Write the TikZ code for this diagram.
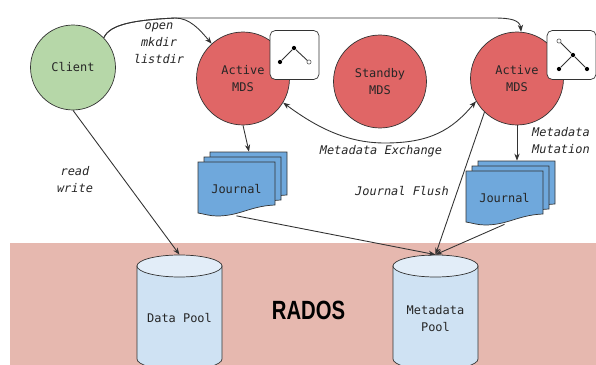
\documentclass[tikz,border=0pt]{standalone}
\usepackage{fontspec}
\setmonofont{DejaVu Sans Mono}
\newfontfamily\titlefont{Liberation Sans}
\usepackage{tikz}
\usetikzlibrary{arrows.meta}

\definecolor{clientgreen}{HTML}{B6D7A8}
\definecolor{mdsred}{HTML}{E06666}
\definecolor{journalblue}{HTML}{6FA8DC}
\definecolor{radospink}{HTML}{E6B8AF}
\definecolor{poolbody}{HTML}{CFE2F3}
\definecolor{pooltop}{HTML}{E2EDF8}

\tikzset{
  txt/.style={font=\ttfamily\fontsize{6.8}{9.7}\selectfont, text=black!85, align=center, inner sep=0},
  note/.style={txt, font=\ttfamily\itshape\fontsize{6.8}{9.7}\selectfont},
  mds/.style={circle, draw=black!80, fill=mdsred, minimum size=1.86cm, inner sep=0, txt},
  iconbox/.style={draw=black!80, fill=white, rounded corners=3pt, minimum size=0.98cm, inner sep=0},
  dot/.style={circle, fill=black, inner sep=0, minimum size=2.4pt},
  opendot/.style={circle, draw=black!70, fill=white, inner sep=0, minimum size=2.4pt, line width=0.3pt},
  pool/.style={txt, minimum width=1.7cm, minimum height=2.52cm},
  sheet/.style={draw=black!80, fill=journalblue},
  link/.style={draw=black!80, line width=0.5pt, -{Stealth[length=4pt,width=3pt]}}
}

% one sheet of a journal stack, #1,#2 = top left corner
\newcommand{\journalsheet}[2]{
  \draw[sheet, shift={(#1,#2)}] (0,0) -- (77,0) -- (77,43)
    .. controls (52,44) and (42,54) .. (19,54)
    .. controls (12,54) and (6,52) .. (0,51) -- cycle;
}
% drum of a pool, #1 = middle of the drum
\newcommand{\pooldrum}[1]{
  \draw[draw=black!80, fill=poolbody] (#1-42.5,266) -- (#1-42.5,359)
    arc[x radius=42.5, y radius=11, start angle=180, end angle=0] -- (#1+42.5,266) -- cycle;
  \draw[draw=black!80, fill=pooltop] (#1,266) ellipse[x radius=42.5, y radius=11];
}

\begin{document}
\begin{tikzpicture}[x=0.02cm, y=-0.02cm]
  \useasboundingbox (0,0) rectangle (596,365);

  \node[fill=radospink, minimum width=11.72cm, minimum height=2.44cm, inner sep=0] (band) at (303,304) {};
  \node[inner sep=0, font=\titlefont\bfseries\fontsize{15}{16}\selectfont, text=black] (radosLabel) at (308.5,310) {\scalebox{0.77}[1]{RADOS}};

  \pooldrum{179.5}
  \node[pool] (dataPool) at (179.5,318) {Data Pool};
  \pooldrum{435.5}
  \node[pool, minimum height=2.56cm] (metaPool) at (435.5,319) {Metadata\\Pool};

  \node[circle, draw=black!80, fill=clientgreen, minimum size=1.7cm, inner sep=0, txt] (client) at (73,67.5) {Client};
  \node[mds] (activeA) at (243,78.5) {Active\\MDS};
  \node[mds] (standby) at (380,81.5) {Standby\\MDS};
  \node[mds] (activeB) at (517,78.5) {Active\\MDS};

  % left tree
  \node[iconbox] (iconA) at (294.5,55) {};
  \node[dot] (treeAa) at (280,62) {};
  \node[dot] (treeAb) at (294,48) {};
  \node[opendot] (treeAc) at (309,62) {};
  \draw[black!80, line width=0.5pt] (treeAa) -- (treeAb) -- (treeAc);

  % right tree
  \node[iconbox] (iconB) at (571.5,55) {};
  \node[opendot] (treeBa) at (559,41) {};
  \node[dot] (treeBb) at (573,55) {};
  \node[dot] (treeBc) at (587,69) {};
  \node[dot] (treeBd) at (559,69) {};
  \draw[black!80, line width=0.5pt] (treeBa) -- (treeBb) -- (treeBc);
  \draw[black!80, line width=0.5pt] (treeBb) -- (treeBd);

  % journals, back to front
  \journalsheet{210}{152}
  \journalsheet{204}{157}
  \journalsheet{198}{162}
  \node[txt, minimum width=1.56cm, minimum height=0.86cm] (backA) at (249,173.5) {};
  \node[txt, minimum width=1.54cm, minimum height=1.06cm] (journalA) at (236.5,189) {Journal};

  \journalsheet{478}{161}
  \journalsheet{472}{166}
  \journalsheet{466}{171}
  \node[txt, minimum width=1.56cm, minimum height=0.86cm] (backB) at (517,182.5) {};
  \node[txt, minimum width=1.54cm, minimum height=1.04cm] (journalB) at (504.5,198) {Journal};

  % requests from the client
  \coordinate (fork) at (175,18);
  \draw[link] (client.44) .. controls (110,24) and (135,20) .. (fork)
    .. controls (190,18) and (200,30) .. (activeA.132);
  \draw[link] (client.44) .. controls (110,24) and (135,20) .. (fork)
    -- (495,18) .. controls (510,18) and (520,20) .. (activeB.85);
  \draw[link] (client.south) -- (dataPool.north);

  \draw[link, {Stealth[length=4pt,width=3pt]}-{Stealth[length=4pt,width=3pt]}] (activeA.-31)
    .. controls (320,130) and (350,143) .. (385,143)
    .. controls (430,143) and (452,130) .. (activeB.209);

  \draw[link] (activeA.south) -- (backA.north);
  \draw[link] (activeB.south) -- (backB.north);
  \draw[link] (journalA.south) -- (metaPool.north);
  \draw[link] (journalB.south) -- (metaPool.north);
  \draw[link] (activeB.226) -- (metaPool.north);

  \node[note] (requests) at (159,43) {open\\mkdir\\listdir};
  \node[note] (io) at (75,180) {read\\write};
  \node[note] (exchange) at (381,151) {Metadata Exchange};
  \node[note] (flush) at (402,191) {Journal Flush};
  \node[note] (mutation) at (561,141) {Metadata\\Mutation};
\end{tikzpicture}
\end{document}
